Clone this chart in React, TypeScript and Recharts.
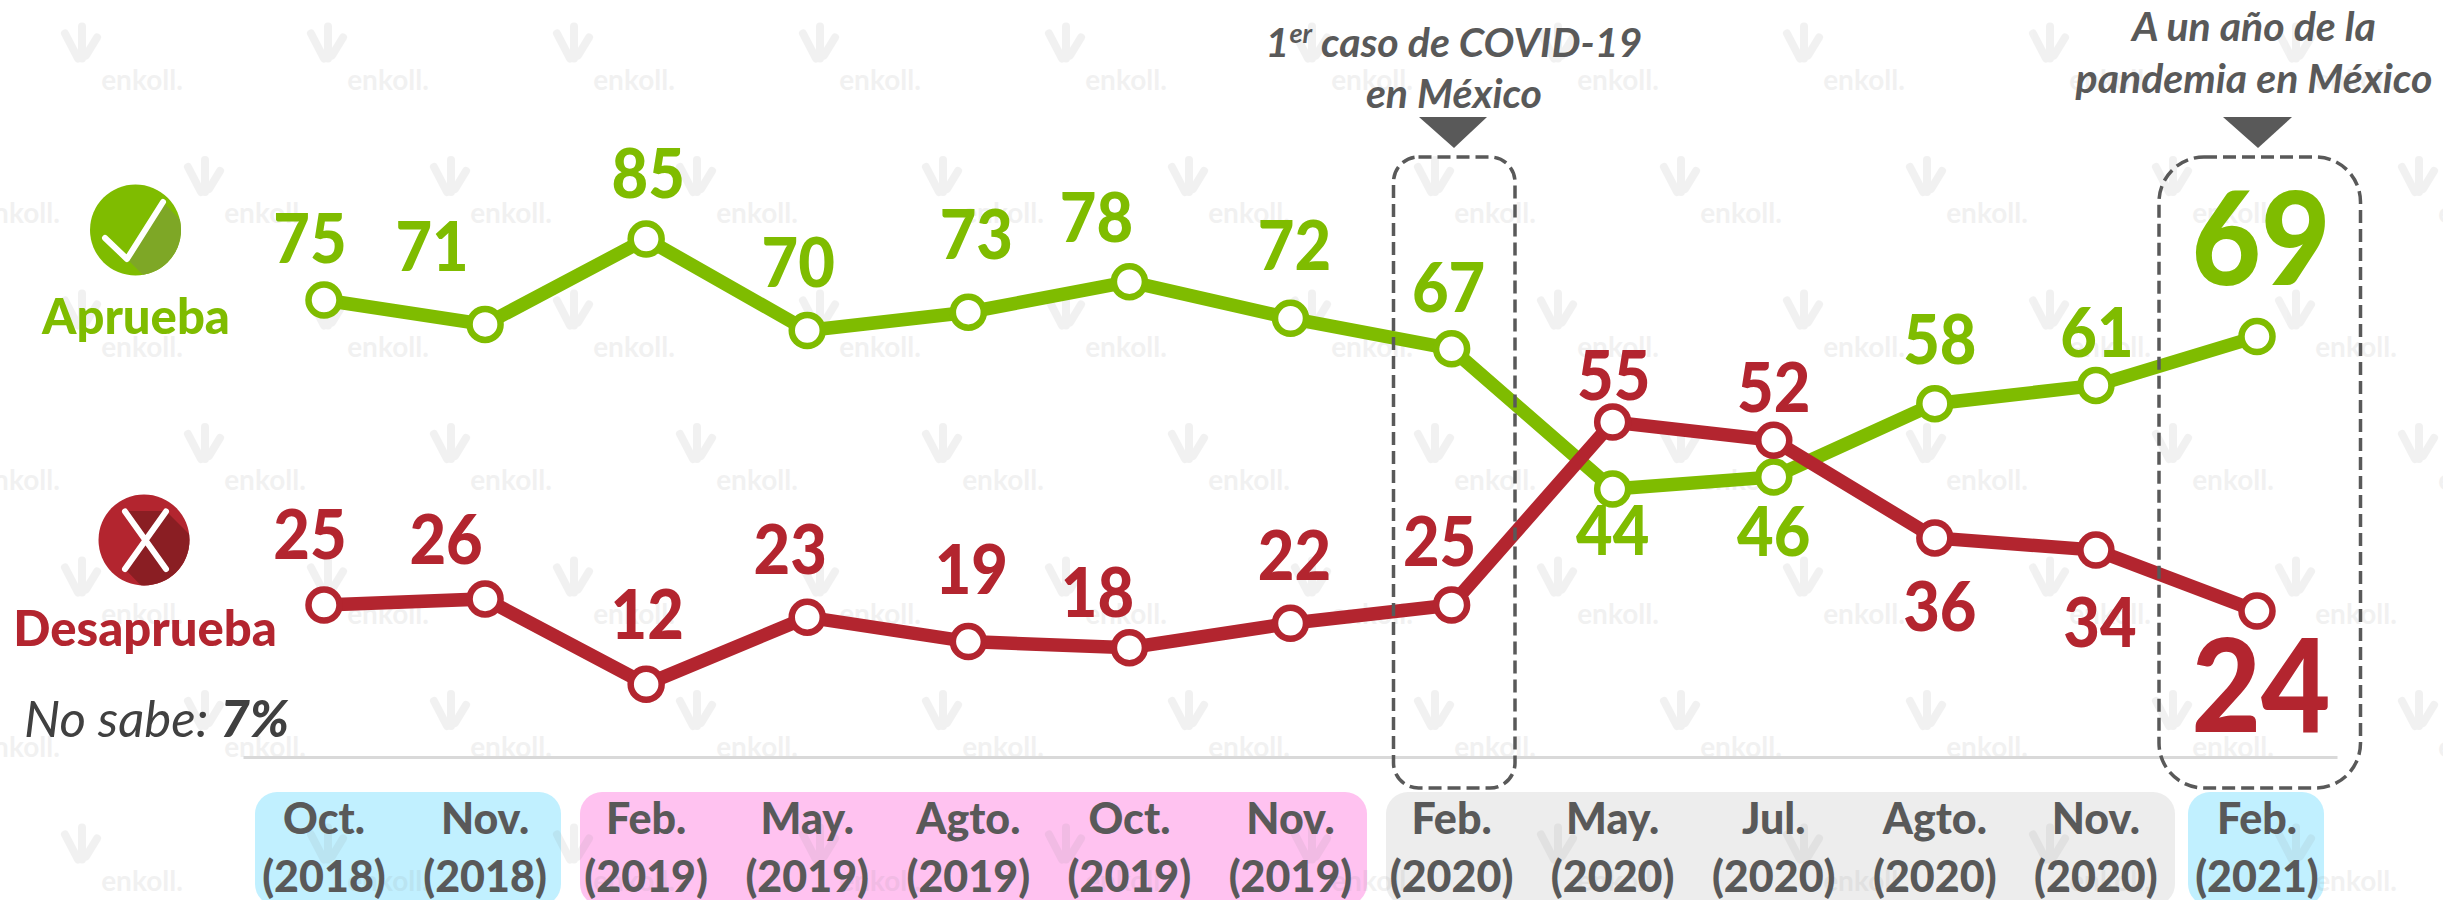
import { LabelList, Line, LineChart, XAxis, YAxis } from "recharts";

const months = ["Oct.", "Nov.", "Feb.", "May.", "Agto.", "Oct.", "Nov.", "Feb.", "May.", "Jul.", "Agto.", "Nov.", "Feb."];
const years = ["(2018)", "(2018)", "(2019)", "(2019)", "(2019)", "(2019)", "(2019)", "(2020)", "(2020)", "(2020)", "(2020)", "(2020)", "(2021)"];
const aprueba = [75, 71, 85, 70, 73, 78, 72, 67, 44, 46, 58, 61, 69];
const desaprueba = [25, 26, 12, 23, 19, 18, 22, 25, 55, 52, 36, 34, 24];

// where each number sits relative to its point (hand placed, like the original slide)
const apruebaDx = [-14, -53, 2, -9, 8, -33, 4, -3, 0, 0, 5, 1, 4];
const apruebaDy = [-61, -78, -65, -68, -78, -64, -73, -61, 41, 55, -64, -53, -98];
const desapruebaDx = [-14, -39, 1, -17, 3, -32, 4, -12, 1, 0, 5, 4, 4];
const desapruebaDy = [-70, -59, -70, -68, -72, -55, -68, -63, -46, -53, 69, 72, 74];

const data = months.map((m, i) => ({
  key: `${m} ${years[i]}`,
  aprueba: aprueba[i],
  desaprueba: desaprueba[i],
}));

const GREEN = "#7FBC00";
const RED = "#B3252F";
const GREY = "#595959";
const FONT = "Lato, sans-serif";

function pointLabel(color: string, dxs: number[], dys: number[]) {
  return (props: any) => {
    const { x, y, value, index } = props;
    const big = index === months.length - 1;
    const size = big ? 129 : 68;
    const cx = x + dxs[index];
    const cy = y + dys[index] + size * 0.36;
    return (
      <text
        transform={`translate(${cx},${cy}) scale(0.93,1)`}
        textAnchor="middle"
        fontFamily={FONT}
        fontWeight={900}
        fontSize={size}
        fill={color}
      >
        {value}
      </text>
    );
  };
}

function MonthTick(props: any) {
  const { x, index } = props;
  return (
    <g fontFamily={FONT} fontWeight={900} fontSize={43} fill={GREY} textAnchor="middle">
      <text x={x} y={834}>{months[index]}</text>
      <text x={x} y={892}>{years[index]}</text>
    </g>
  );
}

function Watermark() {
  const marks = [];
  for (let row = 0; row < 7; row++) {
    for (let col = -1; col < 11; col++) {
      const x = 81 + col * 246 + (row % 2 ? 123 : 0);
      const y = 43.5 + row * 133.5;
      marks.push(
        <g key={`${row}-${col}`} transform={`translate(${x},${y})`} opacity={0.1}>
          <path
            d="M-16 -10 L-3 15 M1 -17 L1 15 M16 -6 L5 12"
            fill="none"
            stroke="#808080"
            strokeWidth={8}
            strokeLinecap="round"
          />
          <text x={61} y={46} textAnchor="middle" fontFamily={FONT} fontWeight={700} fontSize={28} fill="#808080">
            enkoll.
          </text>
        </g>
      );
    }
  }
  return <>{marks}</>;
}

const layer = { position: "absolute", left: 0, top: 0 } as const;

export default function App() {
  return (
    <div style={{ position: "absolute", left: 0, top: 0, width: 2443, height: 900, overflow: "hidden", background: "#fff" }}>
      <svg width={2443} height={900} style={layer}>
        <rect x={255} y={792} width={306} height={114} rx={22} fill="#C1F0FF" />
        <rect x={580} y={792} width={787} height={114} rx={22} fill="#FFC2F0" />
        <rect x={1386} y={792} width={789} height={114} rx={22} fill="#EDEDED" />
        <rect x={2188} y={792} width={136} height={114} rx={22} fill="#C1F0FF" />
        <Watermark />
      </svg>

      <LineChart
        width={2443}
        height={900}
        data={data}
        style={layer}
        margin={{ top: 147.5, right: 105.5, bottom: 0, left: 243.5 }}
      >
        <XAxis
          dataKey="key"
          height={142.5}
          interval={0}
          padding={{ left: 80.5, right: 80.5 }}
          tickLine={false}
          axisLine={{ stroke: "#D9D9D9", strokeWidth: 3 }}
          tick={<MonthTick />}
        />
        <YAxis hide domain={[0, 100]} />
        <Line
          dataKey="aprueba"
          stroke={GREEN}
          strokeWidth={13.5}
          dot={{ r: 15.5, fill: "#fff", stroke: GREEN, strokeWidth: 6.5 }}
          isAnimationActive={false}
        >
          <LabelList dataKey="aprueba" content={pointLabel(GREEN, apruebaDx, apruebaDy)} />
        </Line>
        <Line
          dataKey="desaprueba"
          stroke={RED}
          strokeWidth={13.5}
          dot={{ r: 15.5, fill: "#fff", stroke: RED, strokeWidth: 6.5 }}
          isAnimationActive={false}
        >
          <LabelList dataKey="desaprueba" content={pointLabel(RED, desapruebaDx, desapruebaDy)} />
        </Line>
      </LineChart>

      <svg width={2443} height={900} style={layer} fontFamily={FONT}>
        <defs>
          <clipPath id="okClip"><circle cx={135.5} cy={230} r={45.5} /></clipPath>
          <clipPath id="noClip"><circle cx={144} cy={540} r={45.5} /></clipPath>
        </defs>

        <circle cx={135.5} cy={230} r={45.5} fill={GREEN} />
        <polygon points="127,259 163,202 190,230 190,290 158,290" fill="#7EA726" clipPath="url(#okClip)" />
        <polyline points="105,238 127,259 163,202" fill="none" stroke="#fff" strokeWidth={6} strokeLinecap="round" strokeLinejoin="round" />
        <text x={136} y={334} textAnchor="middle" fontSize={49} fontWeight={900} fill={GREEN}>Aprueba</text>

        <circle cx={144} cy={540} r={45.5} fill={RED} />
        <polygon points="125,569 145,540 125,511 166,511 195,540 195,600 155,600" fill="#8A1E23" clipPath="url(#noClip)" />
        <path d="M125 511.5 L166 569 M166 511.5 L125 569" stroke="#fff" strokeWidth={6} strokeLinecap="round" />
        <text x={145} y={646} textAnchor="middle" fontSize={49} fontWeight={900} fill={RED}>Desaprueba</text>

        <text x={24} y={737} fontSize={51} fontStyle="italic" fill="#404040">
          No sabe: <tspan fontWeight={900}>7%</tspan>
        </text>

        <rect x={1393.5} y={157} width={121.5} height={631} rx={25} fill="none" stroke={GREY} strokeWidth={3.5} strokeDasharray="13 6" />
        <rect x={2159} y={157} width={201.5} height={631} rx={45} fill="none" stroke={GREY} strokeWidth={3.5} strokeDasharray="13 6" />
        <polygon points="1419,117 1487,117 1454,148" fill={GREY} />
        <polygon points="2223,117 2292,117 2258,148" fill={GREY} />

        <g fontSize={41} fontStyle="italic" fontWeight={700} fill={GREY} textAnchor="middle">
          <text x={1454} y={57}>
            1<tspan fontSize={27} dy={-14}>er</tspan><tspan dy={14}> caso de COVID-19</tspan>
          </text>
          <text x={1454} y={108}>en México</text>
          <text x={2254} y={41}>A un año de la</text>
          <text x={2254} y={93}>pandemia en México</text>
        </g>
      </svg>
    </div>
  );
}
